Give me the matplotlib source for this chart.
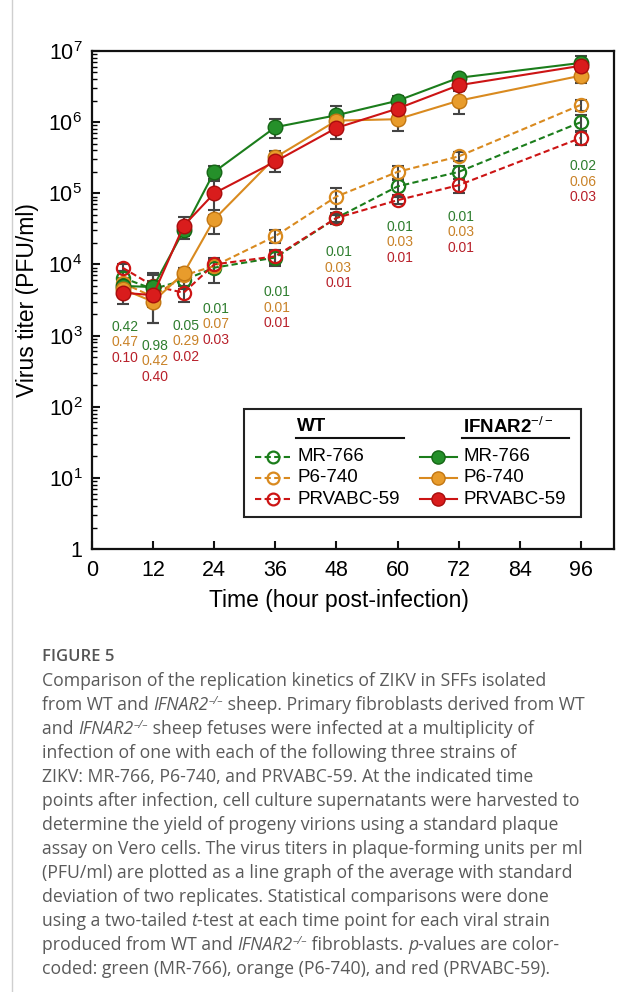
from __future__ import annotations

import matplotlib

matplotlib.use("Agg")
import matplotlib.pyplot as plt
from matplotlib.lines import Line2D
from matplotlib.patches import Rectangle
from matplotlib.ticker import FixedLocator, LogLocator, NullFormatter


plt.rcParams["font.family"] = ["Liberation Sans", "DejaVu Sans"]
plt.rcParams["mathtext.fontset"] = "custom"
plt.rcParams["mathtext.rm"] = "Liberation Sans"
plt.rcParams["mathtext.it"] = "Liberation Sans:italic"
plt.rcParams["mathtext.bf"] = "Liberation Sans:bold"

FIG_W, FIG_H, DPI = 619, 992, 100

# ---- data ---------------------------------------------------------------
times = [6, 12, 18, 24, 36, 48, 60, 72, 96]
strains = ["MR-766", "P6-740", "PRVABC-59"]

# WT fibroblasts (dashed, open markers)
wt_mr766 = [6.5e3, 4.5e3, 6.0e3, 9.0e3, 1.25e4, 4.5e4, 1.25e5, 2.0e5, 1.0e6]
wt_p6740 = [5.5e3, 3.5e3, 7.0e3, 9.5e3, 2.5e4, 9.0e4, 2.0e5, 3.3e5, 1.75e6]
wt_prvabc59 = [9.0e3, 5.0e3, 4.0e3, 1.0e4, 1.3e4, 4.5e4, 8.0e4, 1.3e5, 6.0e5]
wt_mr766_sd = [1.5e3, 3.0e3, 1.5e3, 3.5e3, 3.0e3, 8.0e3, 3.0e4, 4.0e4, 2.5e5]
wt_p6740_sd = [1.0e3, 1.0e3, 2.0e3, 2.0e3, 5.0e3, 3.0e4, 4.0e4, 5.0e4, 3.0e5]
wt_prvabc59_sd = [1.0e3, 2.0e3, 1.0e3, 2.0e3, 3.0e3, 5.0e3, 1.0e4, 3.0e4, 1.3e5]

# IFNAR2-/- fibroblasts (solid, filled markers)
ko_mr766 = [5.0e3, 4.8e3, 3.0e4, 2.0e5, 8.5e5, 1.25e6, 2.0e6, 4.2e6, 6.8e6]
ko_p6740 = [4.5e3, 3.0e3, 7.5e3, 4.3e4, 3.2e5, 1.05e6, 1.1e6, 2.0e6, 4.5e6]
ko_prvabc59 = [4.0e3, 3.7e3, 3.5e4, 1.0e5, 2.8e5, 8.3e5, 1.55e6, 3.3e6, 6.2e6]
ko_mr766_sd = [1.0e3, 1.0e3, 5.0e3, 4.0e4, 2.5e5, 4.5e5, 3.0e5, 5.0e5, 1.8e6]
ko_p6740_sd = [1.0e3, 1.5e3, 1.5e3, 1.6e4, 7.0e4, 2.0e5, 3.5e5, 7.0e5, 1.0e6]
ko_prvabc59_sd = [1.2e3, 1.0e3, 1.2e4, 5.0e4, 8.0e4, 2.5e5, 3.0e5, 5.0e5, 1.0e6]

# p-values (WT vs IFNAR2-/-) per time point, and height of the top label
p_mr766 = ["0.42", "0.98", "0.05", "0.01", "0.01", "0.01", "0.01", "0.01", "0.02"]
p_p6740 = ["0.47", "0.42", "0.29", "0.07", "0.01", "0.03", "0.03", "0.03", "0.06"]
p_prvabc59 = ["0.10", "0.40", "0.02", "0.03", "0.01", "0.01", "0.01", "0.01", "0.03"]
p_label_y = [1340, 724, 1380, 2400, 4050, 1.48e4, 3.4e4, 4.7e4, 2.4e5]

x_ticks = [0, 12, 24, 36, 48, 60, 72, 84, 96]
y_ticks = [1, 1e1, 1e2, 1e3, 1e4, 1e5, 1e6, 1e7]
y_tick_labels = ["1"] + [f"$10^{{{k}}}$" for k in range(1, 8)]

caption_title = "FIGURE 5"
caption_lines = [
    [("Comparison of the replication kinetics of ZIKV in SFFs isolated", "n")],
    [("from WT and ", "n"), ("IFNAR2", "i"), ("\u2013/\u2013", "s"),
     (" sheep. Primary fibroblasts derived from WT", "n")],
    [("and ", "n"), ("IFNAR2", "i"), ("\u2013/\u2013", "s"),
     (" sheep fetuses were infected at a multiplicity of", "n")],
    [("infection of one with each of the following three strains of", "n")],
    [("ZIKV: MR-766, P6-740, and PRVABC-59. At the indicated time", "n")],
    [("points after infection, cell culture supernatants were harvested to", "n")],
    [("determine the yield of progeny virions using a standard plaque", "n")],
    [("assay on Vero cells. The virus titers in plaque-forming units per ml", "n")],
    [("(PFU/ml) are plotted as a line graph of the average with standard", "n")],
    [("deviation of two replicates. Statistical comparisons were done", "n")],
    [("using a two-tailed ", "n"), ("t", "i"),
     ("-test at each time point for each viral strain", "n")],
    [("produced from WT and ", "n"), ("IFNAR2", "i"), ("\u2013/\u2013", "s"),
     (" fibroblasts. ", "n"), ("p", "i"), ("-values are color-", "n")],
    [("coded: green (MR-766), orange (P6-740), and red (PRVABC-59).", "n")],
]

# ---- styling -------------------------------------------------------------
LINE_COLORS = {"MR-766": "#1b7d1b", "P6-740": "#d98a1f", "PRVABC-59": "#cc1414"}
FACE_COLORS = {"MR-766": "#25902a", "P6-740": "#e89c2c", "PRVABC-59": "#d91c1c"}
EDGE_COLORS = {"MR-766": "#156615", "P6-740": "#c27612", "PRVABC-59": "#a80d0d"}
TEXT_COLORS = {"MR-766": "#2e7d2e", "P6-740": "#c98228", "PRVABC-59": "#b8202a"}
ERR_COLOR = "#444444"
DASHES = (3.0, 1.6)
CAPTION_FONT = ["Open Sans", "DejaVu Sans"]
CAPTION_COLOR = "#5a5a5a"


def open_style(strain: str) -> dict:
    return dict(color=LINE_COLORS[strain], lw=1.5, dashes=DASHES, marker="o",
                ms=9.5, mfc="none", mec=LINE_COLORS[strain], mew=1.6)


def filled_style(strain: str) -> dict:
    return dict(color=LINE_COLORS[strain], lw=1.5, ls="-", marker="o", ms=10.5,
                mfc=FACE_COLORS[strain], mec=EDGE_COLORS[strain], mew=1.0)


def plot_series(ax) -> None:
    wt = [(wt_mr766, wt_mr766_sd), (wt_p6740, wt_p6740_sd), (wt_prvabc59, wt_prvabc59_sd)]
    ko = [(ko_mr766, ko_mr766_sd), (ko_p6740, ko_p6740_sd), (ko_prvabc59, ko_prvabc59_sd)]

    for strain, (vals, sd) in zip(strains, wt):
        ax.errorbar(times, vals, yerr=sd, fmt="none", ecolor=ERR_COLOR,
                    elinewidth=1.5, capsize=4, capthick=1.5, zorder=2)
        ax.plot(times, vals, zorder=3, **open_style(strain))

    for strain, (vals, sd) in zip(strains, ko):
        ax.errorbar(times, vals, yerr=sd, fmt="none", ecolor=ERR_COLOR,
                    elinewidth=1.5, capsize=4, capthick=1.5, zorder=2)
        ax.plot(times, vals, zorder=4, **filled_style(strain))


def plot_pvalues(ax) -> None:
    for i, t in enumerate(times):
        labels = [p_mr766[i], p_p6740[i], p_prvabc59[i]]
        for row, (strain, text) in enumerate(zip(strains, labels)):
            ax.annotate(text, xy=(t + 0.4, p_label_y[i]), xytext=(0, -11.2 * row),
                        textcoords="offset points", ha="center", va="center",
                        fontsize=10, color=TEXT_COLORS[strain], zorder=5)


def draw_legend(ax) -> None:
    tr = ax.transAxes
    ax.add_patch(Rectangle((0.291, 0.064), 0.646, 0.217, transform=tr,
                           fill=True, facecolor="white", edgecolor="#222222",
                           lw=1.5, zorder=6))

    ax.text(0.393, 0.245, "WT", transform=tr, fontsize=13.5, fontweight="bold",
            ha="left", va="center", zorder=7)
    ax.text(0.711, 0.245, r"IFNAR2$^{-/-}$", transform=tr, fontsize=13.5,
            fontweight="bold", ha="left", va="center", zorder=7)
    ax.add_line(Line2D([0.391, 0.598], [0.223, 0.223], transform=tr,
                       color="#111111", lw=1.5, zorder=7))
    ax.add_line(Line2D([0.709, 0.914], [0.223, 0.223], transform=tr,
                       color="#111111", lw=1.5, zorder=7))

    marker_keys = ("marker", "ms", "mfc", "mec", "mew")
    rows = [0.185, 0.1426, 0.100]
    for strain, y in zip(strains, rows):
        st = open_style(strain)
        st["ms"] = 8.5
        ax.add_line(Line2D([0.312, 0.383], [y, y], transform=tr, zorder=7,
                           color=st["color"], lw=1.5, dashes=DASHES))
        ax.add_line(Line2D([0.347], [y], transform=tr, zorder=8, ls="none",
                           **{k: st[k] for k in marker_keys}))
        ax.text(0.393, y, strain, transform=tr, fontsize=13.5, ha="left",
                va="center", zorder=7)

        st = filled_style(strain)
        st["ms"] = 9.5
        ax.add_line(Line2D([0.628, 0.699], [y, y], transform=tr, zorder=7,
                           color=st["color"], lw=1.5))
        ax.add_line(Line2D([0.663], [y], transform=tr, zorder=8, ls="none",
                           **{k: st[k] for k in marker_keys}))
        ax.text(0.711, y, strain, transform=tr, fontsize=13.5, ha="left",
                va="center", zorder=7)


def style_axes(ax) -> None:
    ax.set_yscale("log")
    ax.set_xlim(0, 102.5)
    ax.set_ylim(1, 1e7)

    ax.xaxis.set_major_locator(FixedLocator(x_ticks))
    ax.set_xticklabels([str(t) for t in x_ticks])
    ax.yaxis.set_major_locator(FixedLocator(y_ticks))
    ax.set_yticklabels(y_tick_labels)
    ax.yaxis.set_minor_locator(LogLocator(base=10, subs=range(2, 10), numticks=20))
    ax.yaxis.set_minor_formatter(NullFormatter())

    ax.tick_params(axis="both", which="major", direction="in", length=6,
                   width=1.5, labelsize=15.5, color="#111111")
    ax.tick_params(axis="x", which="major", pad=8)
    ax.tick_params(axis="y", which="major", pad=7)
    ax.tick_params(axis="y", which="minor", direction="in", length=3.5, width=1.0)
    ax.tick_params(top=False, right=False, which="both")

    for spine in ax.spines.values():
        spine.set_linewidth(1.6)
        spine.set_color("#111111")

    ax.set_xlabel("Time (hour post-infection)", fontsize=16.5)
    ax.set_ylabel("Virus titer (PFU/ml)", fontsize=16.5)
    ax.xaxis.set_label_coords(0.473, -0.080)
    ax.yaxis.set_label_coords(-0.1015, 0.5)


def text_advance(fig, renderer, text: str, **kw) -> float:
    probe = fig.text(0, 0, "|" + text + "|", **kw)
    bar = fig.text(0, 0, "||", **kw)
    w = probe.get_window_extent(renderer).width - bar.get_window_extent(renderer).width
    probe.remove()
    bar.remove()
    return w


def draw_caption(fig) -> None:
    renderer = fig.canvas.get_renderer()
    base = dict(family=CAPTION_FONT, color=CAPTION_COLOR, weight="normal")
    styles = {
        "n": dict(base, fontsize=12.7, style="normal"),
        "i": dict(base, fontsize=12.7, style="italic"),
        "s": dict(base, fontsize=8.0, style="italic"),
    }
    raise_px = {"n": 0.0, "i": 0.0, "s": 6.0}

    fig.text(42 / FIG_W, 1 - 661 / FIG_H, caption_title, family=CAPTION_FONT,
             color="#555555", fontsize=12, fontweight="semibold", ha="left",
             va="baseline")

    for i, segments in enumerate(caption_lines):
        baseline = 686 + 24 * i
        x = 42.0
        for text, kind in segments:
            kw = styles[kind]
            fig.text(x / FIG_W, 1 - (baseline - raise_px[kind]) / FIG_H, text,
                     ha="left", va="baseline", **kw)
            x += text_advance(fig, renderer, text, **kw)


def main() -> None:
    fig = plt.figure(figsize=(FIG_W / DPI, FIG_H / DPI), dpi=DPI)
    fig.add_artist(Line2D([12 / FIG_W, 12 / FIG_W], [0, 1], transform=fig.transFigure,
                          color="#cfcfcf", lw=1.0))

    ax = fig.add_axes([92 / FIG_W, 1 - 549 / FIG_H, 522 / FIG_W, 498 / FIG_H])
    plot_series(ax)
    plot_pvalues(ax)
    draw_legend(ax)
    style_axes(ax)
    draw_caption(fig)

    fig.savefig("out.png", dpi=DPI)
    plt.close(fig)


if __name__ == "__main__":
    main()
